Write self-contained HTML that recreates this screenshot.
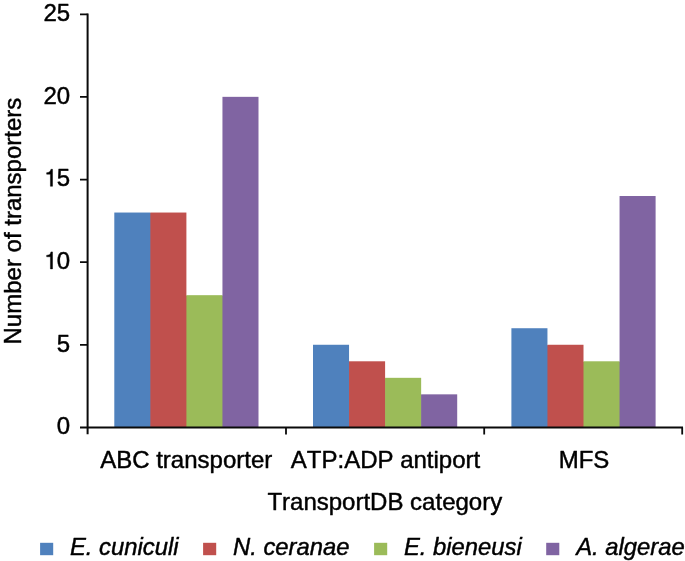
<!DOCTYPE html>
<html><head><meta charset="utf-8">
<style>
html,body{margin:0;padding:0;background:#fff;}
body{width:685px;height:561px;overflow:hidden;}
svg{display:block;will-change:transform;transform:translateZ(0);}
text{font-kerning:none;font-family:"Liberation Sans",sans-serif;fill:#000;stroke:#000;stroke-width:0.45px;stroke-linejoin:round;}
.one{fill:#000;stroke:#000;stroke-width:18px;stroke-linejoin:round;}
</style></head><body>
<svg width="685" height="561" viewBox="0 0 685 561">
<rect width="685" height="561" fill="#fff"/>
<!-- bars -->
<g>
<rect x="149.75" y="213.04" width="1.2" height="214.36" fill="#4f81bd"/>
<rect x="185.80" y="295.68" width="1.2" height="131.72" fill="#c0504d"/>
<rect x="221.85" y="295.68" width="1.2" height="131.72" fill="#9bbb59"/>
<rect x="114.30" y="212.54" width="36.05" height="214.86" fill="#4f81bd"/>
<rect x="150.35" y="212.54" width="36.05" height="214.86" fill="#c0504d"/>
<rect x="186.40" y="295.18" width="36.05" height="132.22" fill="#9bbb59"/>
<rect x="222.45" y="96.84" width="36.05" height="330.56" fill="#8064a2"/>
<rect x="348.45" y="361.79" width="1.2" height="65.61" fill="#4f81bd"/>
<rect x="384.50" y="378.32" width="1.2" height="49.08" fill="#c0504d"/>
<rect x="420.55" y="394.84" width="1.2" height="32.56" fill="#9bbb59"/>
<rect x="313.00" y="344.76" width="36.05" height="82.64" fill="#4f81bd"/>
<rect x="349.05" y="361.29" width="36.05" height="66.11" fill="#c0504d"/>
<rect x="385.10" y="377.82" width="36.05" height="49.58" fill="#9bbb59"/>
<rect x="421.15" y="394.34" width="36.05" height="33.06" fill="#8064a2"/>
<rect x="546.85" y="345.26" width="1.2" height="82.14" fill="#4f81bd"/>
<rect x="582.90" y="361.79" width="1.2" height="65.61" fill="#c0504d"/>
<rect x="618.95" y="361.79" width="1.2" height="65.61" fill="#9bbb59"/>
<rect x="511.40" y="328.23" width="36.05" height="99.17" fill="#4f81bd"/>
<rect x="547.45" y="344.76" width="36.05" height="82.64" fill="#c0504d"/>
<rect x="583.50" y="361.29" width="36.05" height="66.11" fill="#9bbb59"/>
<rect x="619.55" y="196.01" width="36.05" height="231.39" fill="#8064a2"/>
</g>
<!-- axes -->
<g stroke="#0a0a0a" stroke-width="2" fill="none">
<path d="M87.6 13.4V434.2"/>
<path d="M80 427.4H683"/>
<path stroke-width="1.7" d="M80 14.3H87.6M80 96.9H87.6M80 179.6H87.6M80 262.2H87.6M80 344.9H87.6"/>
<path stroke-width="1.8" d="M286 427.4V434.4M484.2 427.4V434.4M682.2 427.4V434.4"/>
</g>
<!-- y tick labels -->
<g font-size="24" text-anchor="end">
<text x="70.2" y="21">25</text>
<text x="70.2" y="103.6">20</text>
<text x="70.2" y="186.3">5</text>
<path class="one" transform="translate(44.2 186.3) scale(0.024 -0.024)" d="M259 0V505H102V568C184 572 254 590 282 709H347V0Z"/>
<text x="70.2" y="268.9">0</text>
<path class="one" transform="translate(44.2 268.9) scale(0.024 -0.024)" d="M259 0V505H102V568C184 572 254 590 282 709H347V0Z"/>
<text x="70.2" y="351.6">5</text>
<text x="70.2" y="434.2">0</text>
</g>
<text font-size="24" text-anchor="middle" transform="translate(20.8 221.1) rotate(-90)">Number of transporters</text>
<g font-size="24" text-anchor="middle">
<text x="186.2" y="468.3">ABC transporter</text>
<text x="385.5" y="468.3">ATP:ADP antiport</text>
<text x="584" y="468.3">MFS</text>
<text x="384.8" y="509.6">TransportDB category</text>
</g>
<g>
<rect x="40.1" y="542.8" width="13.1" height="12.4" fill="#4f81bd"/>
<rect x="203.1" y="542.8" width="13.1" height="12.4" fill="#c0504d"/>
<rect x="374.1" y="542.8" width="13.1" height="12.4" fill="#9bbb59"/>
<rect x="546.2" y="542.8" width="13.1" height="12.4" fill="#8064a2"/>
</g>
<g font-size="23.8" font-style="italic">
<text x="70" y="555">E. cuniculi</text>
<text x="233" y="555">N. ceranae</text>
<text x="404" y="555">E. bieneusi</text>
<text x="576.2" y="555">A. algerae</text>
</g>
</svg>
</body></html>
